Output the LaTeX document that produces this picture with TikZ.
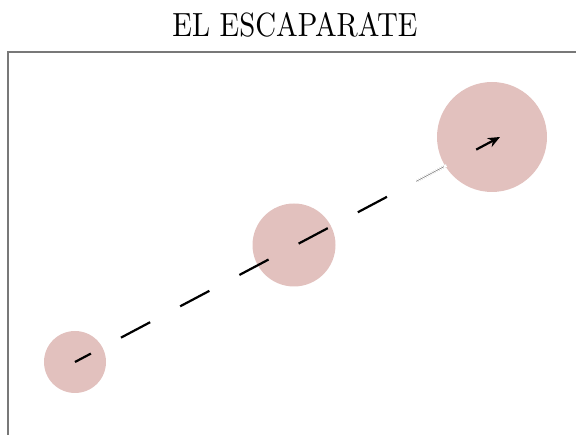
\documentclass[tikz,border=0pt]{standalone}
\usepackage{graphicx}
\usetikzlibrary{arrows.meta,calc}
\definecolor{blush}{RGB}{226,193,190}
\definecolor{framegray}{RGB}{120,120,120}
\tikzset{
  spot/.style={circle,fill=blush,draw=none,inner sep=0pt,minimum size=#1},
  trail/.style={line width=2.2pt,black,dash pattern=on 33pt off 34pt,dash phase=15pt},
  frameline/.style={line width=2pt,framegray},
}
\begin{document}
\begin{tikzpicture}[x=1pt,y=1pt]
\useasboundingbox (0,0) rectangle (576,435);
% title
\node (title) at (295,410) {\resizebox{245pt}{24pt}{EL ESCAPARATE}};
% frame (left and top edges)
\draw[frameline] (8,0) -- (8,383) -- (576,383);
% circles
\node[spot=62pt] (small) at (75,73) {};
\node[spot=83pt] (medium) at (294,190) {};
\node[spot=110pt] (large) at (492,298) {};
\coordinate (tip) at ($(large)+(8,0)$);
% dashed path through the circles
\draw[trail,-{Stealth[length=12pt,width=10pt]}] (small.center) -- (tip);
% faint dash before the last circle
\draw[white,line width=2.8pt] ($(small.center)!0.803!(tip)$) -- ($(small.center)!0.874!(tip)$);
\draw[gray,line width=0.6pt] ($(small.center)!0.803!(tip)$) -- ($(small.center)!0.868!(tip)$);
\end{tikzpicture}
\end{document}
